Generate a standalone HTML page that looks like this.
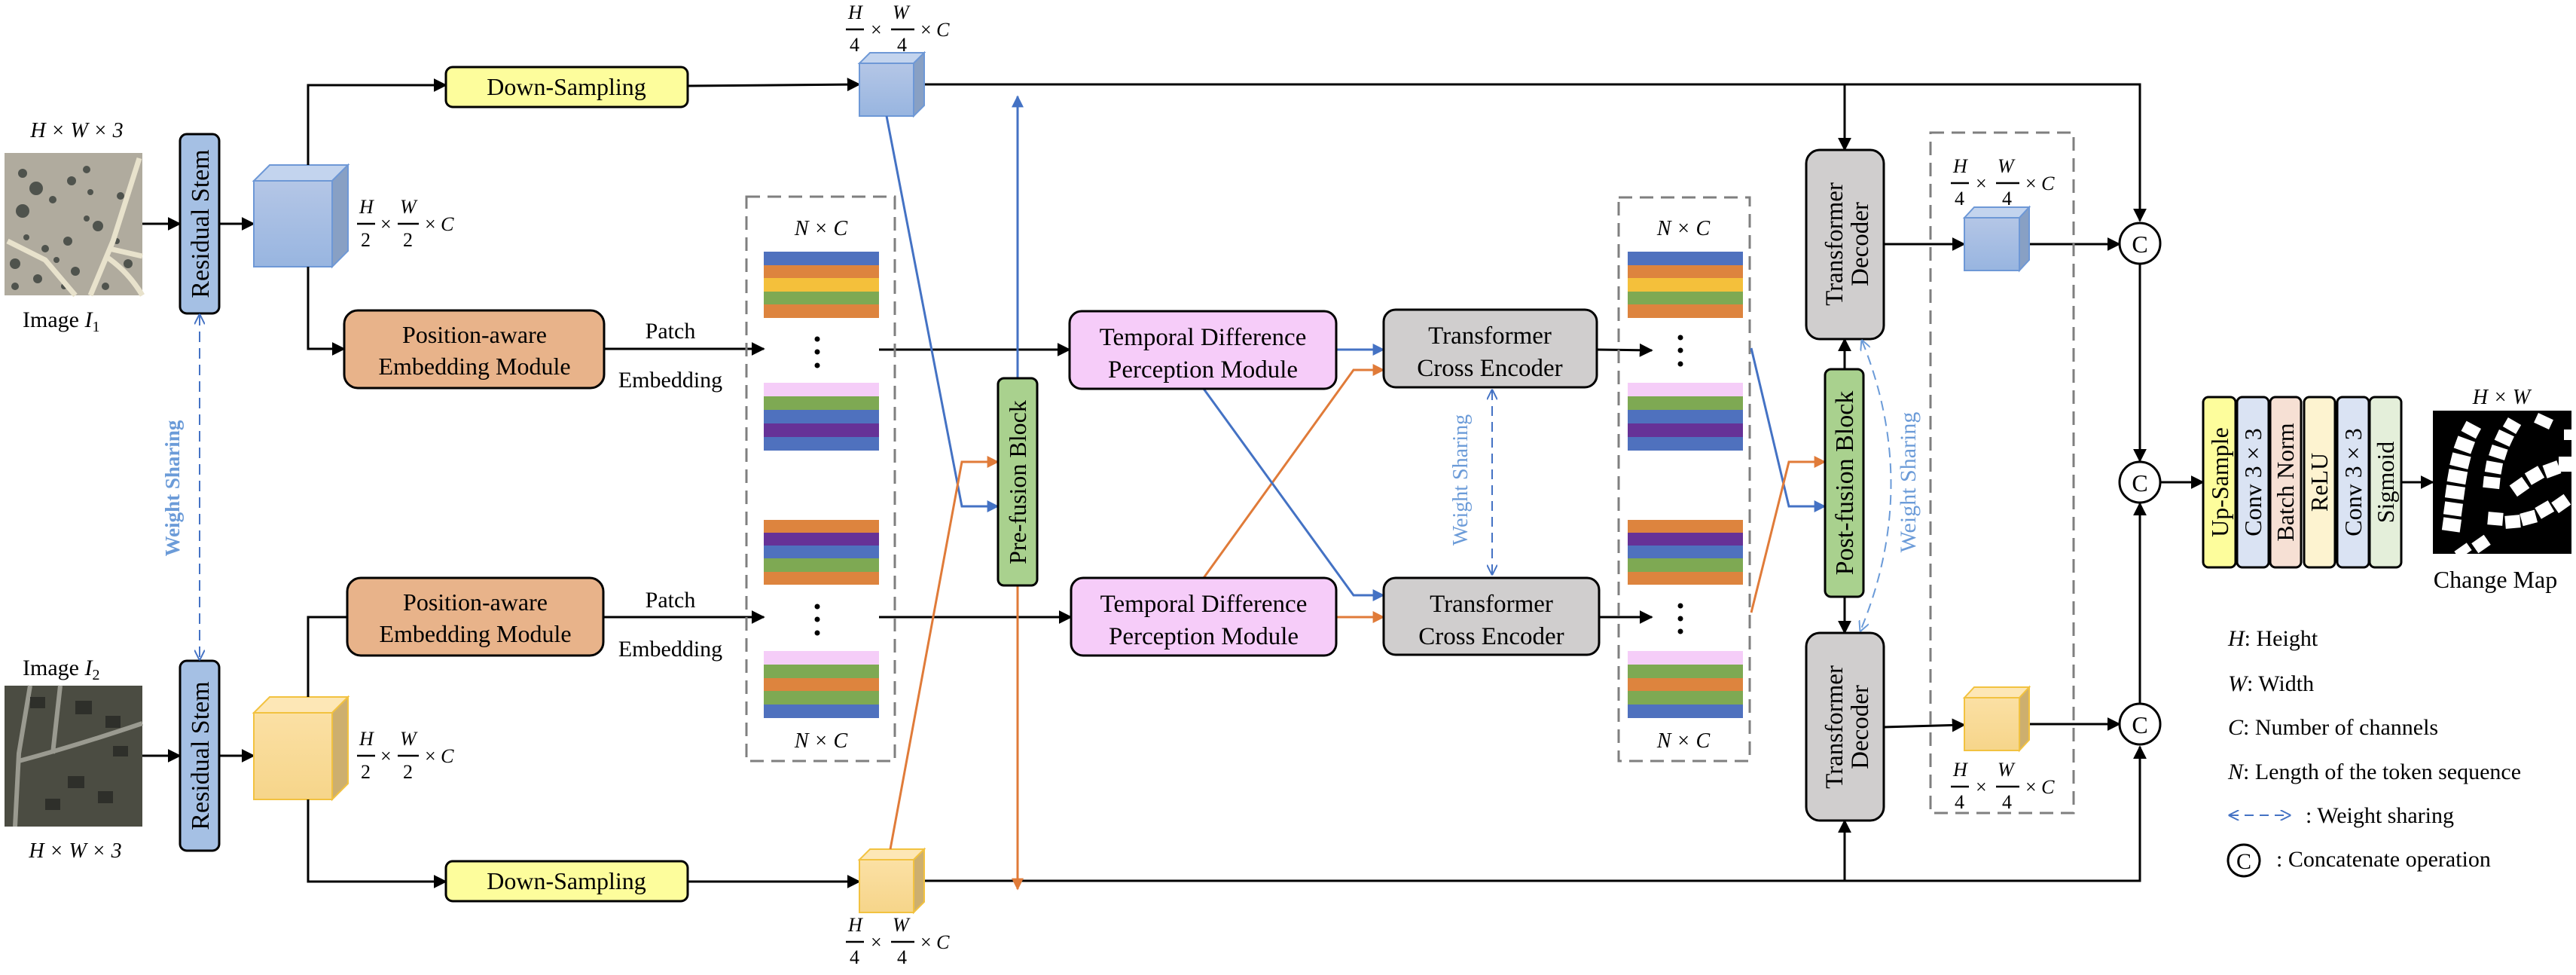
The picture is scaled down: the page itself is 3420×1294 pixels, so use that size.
<!DOCTYPE html>
<html><head><meta charset="utf-8"><style>
html,body{margin:0;padding:0;background:#fff;}
svg{display:block;font-family:"Liberation Serif","DejaVu Serif",serif;}
svg text{font-family:"Liberation Serif","DejaVu Serif",serif;}
.i{font-style:italic;}
</style></head><body>
<svg width="3420" height="1294" viewBox="0 0 3420 1294" xmlns="http://www.w3.org/2000/svg" font-family="Liberation Serif, DejaVu Serif, serif">
<defs>
<marker id="a" viewBox="0 0 10 10" refX="9" refY="5" markerWidth="18" markerHeight="18" markerUnits="userSpaceOnUse" orient="auto"><path d="M0,0L10,5L0,10z" fill="#000"/></marker>
<marker id="abl" viewBox="0 0 10 10" refX="9" refY="5" markerWidth="16" markerHeight="16" markerUnits="userSpaceOnUse" orient="auto"><path d="M0,0L10,5L0,10z" fill="#4472c4"/></marker>
<marker id="aor" viewBox="0 0 10 10" refX="9" refY="5" markerWidth="16" markerHeight="16" markerUnits="userSpaceOnUse" orient="auto"><path d="M0,0L10,5L0,10z" fill="#e07b39"/></marker>
<marker id="ao" viewBox="0 0 10 10" refX="9" refY="5" markerWidth="14" markerHeight="14" markerUnits="userSpaceOnUse" orient="auto-start-reverse"><path d="M0,0L10,5L0,10" fill="none" stroke="#4472c4" stroke-width="1.4"/></marker>
<marker id="ao2" viewBox="0 0 10 10" refX="9" refY="5" markerWidth="14" markerHeight="14" markerUnits="userSpaceOnUse" orient="auto-start-reverse"><path d="M0,0L10,5L0,10" fill="none" stroke="#6b9bd8" stroke-width="1.4"/></marker>
<linearGradient id="gb" x1="0" y1="0" x2="0" y2="1"><stop offset="0" stop-color="#b4c6e6"/><stop offset="1" stop-color="#98b5e0"/></linearGradient>
<linearGradient id="gy" x1="0" y1="0" x2="0" y2="1"><stop offset="0" stop-color="#fbe0a4"/><stop offset="1" stop-color="#f6d58a"/></linearGradient>
</defs>

<!-- Images -->
<rect x="6" y="203" width="183" height="189" fill="#b0ab9e"/>
<g fill="#3f4440" opacity="0.85">
<circle cx="30" cy="230" r="6"/><circle cx="48" cy="250" r="9"/><circle cx="30" cy="280" r="9"/><circle cx="70" cy="265" r="5"/><circle cx="95" cy="240" r="6"/><circle cx="115" cy="225" r="5"/><circle cx="130" cy="300" r="7"/><circle cx="90" cy="320" r="6"/><circle cx="60" cy="330" r="5"/><circle cx="20" cy="350" r="7"/><circle cx="50" cy="370" r="6"/><circle cx="100" cy="360" r="6"/><circle cx="160" cy="260" r="5"/><circle cx="170" cy="350" r="6"/><circle cx="140" cy="380" r="5"/><circle cx="75" cy="345" r="4"/><circle cx="115" cy="290" r="4"/><circle cx="155" cy="320" r="4"/><circle cx="20" cy="380" r="5"/><circle cx="35" cy="315" r="4"/><circle cx="85" cy="380" r="4"/><circle cx="120" cy="255" r="4"/>
</g>
<g stroke="#e8e2cc" stroke-width="7" fill="none"><path d="M185,210 L150,320 L120,392"/><path d="M145,330 L189,340"/><path d="M10,320 L60,345 L100,392"/><path d="M140,340 Q170,360 189,392"/></g>
<rect x="6" y="910" width="183" height="187" fill="#4b4c42"/>
<g stroke="#9a9a90" stroke-width="6" fill="none"><path d="M40,910 L25,1000 L20,1097"/><path d="M25,1010 Q100,990 189,960"/><path d="M80,910 L70,1000"/></g>
<g fill="#2e2f2a"><rect x="40" y="925" width="20" height="15"/><rect x="100" y="930" width="22" height="18"/><rect x="140" y="950" width="20" height="16"/><rect x="90" y="1030" width="22" height="16"/><rect x="130" y="1050" width="20" height="16"/><rect x="60" y="1060" width="20" height="15"/><rect x="150" y="990" width="20" height="14"/></g>

<text x="102" y="182" font-size="28" text-anchor="middle" class="i">H × W × 3</text>
<text x="30" y="434" font-size="30">Image <tspan class="i">I</tspan><tspan font-size="20" dy="6">1</tspan></text>
<text x="30" y="896" font-size="30">Image <tspan class="i">I</tspan><tspan font-size="20" dy="6">2</tspan></text>
<text x="100" y="1138" font-size="28" text-anchor="middle" class="i">H × W × 3</text>

<!-- Residual stems -->
<rect x="239" y="178" width="52" height="238" rx="9" fill="#a5c0e4" stroke="#000" stroke-width="3"/>
<text transform="translate(277,297) rotate(-90)" font-size="34" text-anchor="middle">Residual Stem</text>
<rect x="239" y="877" width="52" height="252" rx="9" fill="#a5c0e4" stroke="#000" stroke-width="3"/>
<text transform="translate(277,1003) rotate(-90)" font-size="34" text-anchor="middle">Residual Stem</text>
<line x1="189" y1="297" x2="239" y2="297" stroke="#000" stroke-width="3" marker-end="url(#a)"/>
<line x1="291" y1="297" x2="337" y2="297" stroke="#000" stroke-width="3" marker-end="url(#a)"/>
<line x1="189" y1="1003" x2="239" y2="1003" stroke="#000" stroke-width="3" marker-end="url(#a)"/>
<line x1="291" y1="1003" x2="337" y2="1003" stroke="#000" stroke-width="3" marker-end="url(#a)"/>
<line x1="265" y1="418" x2="265" y2="875" stroke="#4472c4" stroke-width="2" stroke-dasharray="14,8" marker-start="url(#ao)" marker-end="url(#ao)"/>
<text transform="translate(238,648) rotate(-90)" font-size="27" font-weight="bold" text-anchor="middle" style="fill:#6b9bd8">Weight Sharing</text>

<!-- Big cubes -->
<g stroke="#6e98d6" stroke-width="2">
<rect x="337" y="240" width="104" height="114" fill="url(#gb)"/>
<path d="M337,240 L358,219 L462,219 L441,240z" fill="#c3d4ee"/>
<path d="M441,240 L462,219 L462,333 L441,354z" fill="#88a0c4"/>
</g>
<g stroke="#f2c240" stroke-width="2">
<rect x="337" y="946" width="104" height="115" fill="url(#gy)"/>
<path d="M337,946 L358,925 L462,925 L441,946z" fill="#fde7b6"/>
<path d="M441,946 L462,925 L462,1040 L441,1061z" fill="#cdaf6e"/>
</g>

<!-- fraction labels -->
<g transform="translate(474,297)" font-size="26">
<text x="3" y="-14" class="i">H</text><line x1="0" y1="0" x2="24" y2="0" stroke="#000" stroke-width="2.5"/><text x="5" y="30">2</text>
<text x="31" y="9">×</text>
<text x="57" y="-14" class="i">W</text><line x1="54" y1="0" x2="82" y2="0" stroke="#000" stroke-width="2.5"/><text x="61" y="30">2</text>
<text x="90" y="9">× <tspan class="i">C</tspan></text></g>
<g transform="translate(474,1003)" font-size="26">
<text x="3" y="-14" class="i">H</text><line x1="0" y1="0" x2="24" y2="0" stroke="#000" stroke-width="2.5"/><text x="5" y="30">2</text>
<text x="31" y="9">×</text>
<text x="57" y="-14" class="i">W</text><line x1="54" y1="0" x2="82" y2="0" stroke="#000" stroke-width="2.5"/><text x="61" y="30">2</text>
<text x="90" y="9">× <tspan class="i">C</tspan></text></g>
<g transform="translate(1123,39)" font-size="26">
<text x="3" y="-14" class="i">H</text><line x1="0" y1="0" x2="24" y2="0" stroke="#000" stroke-width="2.5"/><text x="5" y="29">4</text>
<text x="33" y="9">×</text>
<text x="62" y="-14" class="i">W</text><line x1="60" y1="0" x2="91" y2="0" stroke="#000" stroke-width="2.5"/><text x="68" y="29">4</text>
<text x="99" y="9">× <tspan class="i">C</tspan></text></g>
<g transform="translate(1123,1250)" font-size="26">
<text x="3" y="-14" class="i">H</text><line x1="0" y1="0" x2="24" y2="0" stroke="#000" stroke-width="2.5"/><text x="5" y="29">4</text>
<text x="33" y="9">×</text>
<text x="62" y="-14" class="i">W</text><line x1="60" y1="0" x2="91" y2="0" stroke="#000" stroke-width="2.5"/><text x="68" y="29">4</text>
<text x="99" y="9">× <tspan class="i">C</tspan></text></g>
<g transform="translate(2590,243)" font-size="26">
<text x="3" y="-14" class="i">H</text><line x1="0" y1="0" x2="24" y2="0" stroke="#000" stroke-width="2.5"/><text x="5" y="29">4</text>
<text x="33" y="9">×</text>
<text x="62" y="-14" class="i">W</text><line x1="60" y1="0" x2="91" y2="0" stroke="#000" stroke-width="2.5"/><text x="68" y="29">4</text>
<text x="99" y="9">× <tspan class="i">C</tspan></text></g>
<g transform="translate(2590,1044)" font-size="26">
<text x="3" y="-14" class="i">H</text><line x1="0" y1="0" x2="24" y2="0" stroke="#000" stroke-width="2.5"/><text x="5" y="29">4</text>
<text x="33" y="9">×</text>
<text x="62" y="-14" class="i">W</text><line x1="60" y1="0" x2="91" y2="0" stroke="#000" stroke-width="2.5"/><text x="68" y="29">4</text>
<text x="99" y="9">× <tspan class="i">C</tspan></text></g>

<!-- branch lines -->
<g stroke="#000" stroke-width="3" fill="none">
<polyline points="409,219 409,113 592,113" marker-end="url(#a)"/>
<polyline points="409,354 409,463 457,463" marker-end="url(#a)"/>
<polyline points="409,925 409,819 461,819"/>
<polyline points="409,1061 409,1170 592,1170" marker-end="url(#a)"/>
<line x1="913" y1="114" x2="1141" y2="112" marker-end="url(#a)"/>
<line x1="913" y1="1170" x2="1141" y2="1170" marker-end="url(#a)"/>
<line x1="802" y1="463" x2="1014" y2="463" marker-end="url(#a)"/>
<line x1="801" y1="819" x2="1014" y2="819" marker-end="url(#a)"/>
<line x1="1167" y1="464" x2="1420" y2="464" marker-end="url(#a)"/>
<line x1="1167" y1="819" x2="1422" y2="819" marker-end="url(#a)"/>
<line x1="2120" y1="464" x2="2193" y2="465" marker-end="url(#a)"/>
<line x1="2123" y1="819" x2="2193" y2="819" marker-end="url(#a)"/>
<polyline points="1227,112 2841,112 2841,293" marker-end="url(#a)"/>
<polyline points="1227,1169 2841,1169 2841,991" marker-end="url(#a)"/>
<line x1="2449" y1="112" x2="2449" y2="199" marker-end="url(#a)"/>
<line x1="2449" y1="1169" x2="2449" y2="1089" marker-end="url(#a)"/>
<line x1="2449" y1="490" x2="2449" y2="450" marker-end="url(#a)"/>
<line x1="2449" y1="792" x2="2449" y2="840" marker-end="url(#a)"/>
<line x1="2501" y1="324" x2="2608" y2="324" marker-end="url(#a)"/>
<line x1="2694" y1="324" x2="2814" y2="324" marker-end="url(#a)"/>
<line x1="2501" y1="965" x2="2608" y2="962" marker-end="url(#a)"/>
<line x1="2694" y1="961" x2="2814" y2="961" marker-end="url(#a)"/>
<line x1="2841" y1="351" x2="2841" y2="612" marker-end="url(#a)"/>
<line x1="2841" y1="934" x2="2841" y2="668" marker-end="url(#a)"/>
<line x1="2868" y1="640" x2="2925" y2="640" marker-end="url(#a)"/>
<line x1="3188" y1="640" x2="3230" y2="640" marker-end="url(#a)"/>
</g>

<!-- Down sampling -->
<rect x="592" y="89" width="321" height="53" rx="9" fill="#fdfd9c" stroke="#000" stroke-width="3"/>
<text x="752" y="126" font-size="32" text-anchor="middle">Down-Sampling</text>
<rect x="592" y="1143" width="321" height="53" rx="9" fill="#fdfd9c" stroke="#000" stroke-width="3"/>
<text x="752" y="1180" font-size="32" text-anchor="middle">Down-Sampling</text>

<!-- PEM -->
<rect x="457" y="412" width="345" height="103" rx="18" fill="#e8b38a" stroke="#000" stroke-width="3"/>
<text x="630" y="455" font-size="32" text-anchor="middle">Position-aware</text>
<text x="630" y="497" font-size="32" text-anchor="middle">Embedding Module</text>
<rect x="461" y="767" width="340" height="103" rx="18" fill="#e8b38a" stroke="#000" stroke-width="3"/>
<text x="631" y="810" font-size="32" text-anchor="middle">Position-aware</text>
<text x="631" y="852" font-size="32" text-anchor="middle">Embedding Module</text>
<text x="890" y="449" font-size="30" text-anchor="middle">Patch</text>
<text x="890" y="514" font-size="30" text-anchor="middle">Embedding</text>
<text x="890" y="806" font-size="30" text-anchor="middle">Patch</text>
<text x="890" y="871" font-size="30" text-anchor="middle">Embedding</text>

<!-- small cubes -->
<g stroke="#6e98d6" stroke-width="2">
<rect x="1141" y="84" width="72" height="70" fill="url(#gb)"/>
<path d="M1141,84 L1155,70 L1227,70 L1213,84z" fill="#c3d4ee"/>
<path d="M1213,84 L1227,70 L1227,140 L1213,154z" fill="#88a0c4"/>
<rect x="2608" y="289" width="73" height="70" fill="url(#gb)"/>
<path d="M2608,289 L2621,275 L2694,275 L2681,289z" fill="#c3d4ee"/>
<path d="M2681,289 L2694,275 L2694,345 L2681,359z" fill="#88a0c4"/>
</g>
<g stroke="#f2c240" stroke-width="2">
<rect x="1141" y="1141" width="72" height="70" fill="url(#gy)"/>
<path d="M1141,1141 L1155,1127 L1227,1127 L1213,1141z" fill="#fde7b6"/>
<path d="M1213,1141 L1227,1127 L1227,1197 L1213,1211z" fill="#cdaf6e"/>
<rect x="2608" y="926" width="73" height="70" fill="url(#gy)"/>
<path d="M2608,926 L2621,912 L2694,912 L2681,926z" fill="#fde7b6"/>
<path d="M2681,926 L2694,912 L2694,982 L2681,996z" fill="#cdaf6e"/>
</g>

<!-- Token dashed boxes -->
<rect x="991" y="261" width="197" height="749" fill="none" stroke="#7f7f7f" stroke-width="3" stroke-dasharray="18,10"/>
<rect x="2149" y="262" width="174" height="748" fill="none" stroke="#7f7f7f" stroke-width="3" stroke-dasharray="18,10"/>
<rect x="2563" y="176" width="190" height="903" fill="none" stroke="#7f7f7f" stroke-width="3" stroke-dasharray="18,10"/>

<g>
<rect x="1014" y="334" width="153" height="18" fill="#4f71be"/><rect x="1014" y="352" width="153" height="17" fill="#dd843e"/><rect x="1014" y="369" width="153" height="18" fill="#f4c03b"/><rect x="1014" y="387" width="153" height="17" fill="#7ea953"/><rect x="1014" y="404" width="153" height="18" fill="#dd843e"/>
<rect x="1014" y="508" width="153" height="18" fill="#f5cdf8"/><rect x="1014" y="526" width="153" height="18" fill="#7ea953"/><rect x="1014" y="544" width="153" height="18" fill="#4f71be"/><rect x="1014" y="562" width="153" height="18" fill="#663297"/><rect x="1014" y="580" width="153" height="18" fill="#4f71be"/>
<rect x="1014" y="690" width="153" height="17" fill="#dd843e"/><rect x="1014" y="707" width="153" height="17" fill="#663297"/><rect x="1014" y="724" width="153" height="17" fill="#4f71be"/><rect x="1014" y="741" width="153" height="18" fill="#7ea953"/><rect x="1014" y="759" width="153" height="17" fill="#dd843e"/>
<rect x="1014" y="864" width="153" height="18" fill="#f5cdf8"/><rect x="1014" y="882" width="153" height="18" fill="#7ea953"/><rect x="1014" y="900" width="153" height="17" fill="#dd843e"/><rect x="1014" y="917" width="153" height="18" fill="#7ea953"/><rect x="1014" y="935" width="153" height="18" fill="#4f71be"/>
<rect x="2161" y="334" width="153" height="18" fill="#4f71be"/><rect x="2161" y="352" width="153" height="17" fill="#dd843e"/><rect x="2161" y="369" width="153" height="18" fill="#f4c03b"/><rect x="2161" y="387" width="153" height="17" fill="#7ea953"/><rect x="2161" y="404" width="153" height="18" fill="#dd843e"/>
<rect x="2161" y="508" width="153" height="18" fill="#f5cdf8"/><rect x="2161" y="526" width="153" height="18" fill="#7ea953"/><rect x="2161" y="544" width="153" height="18" fill="#4f71be"/><rect x="2161" y="562" width="153" height="18" fill="#663297"/><rect x="2161" y="580" width="153" height="18" fill="#4f71be"/>
<rect x="2161" y="690" width="153" height="17" fill="#dd843e"/><rect x="2161" y="707" width="153" height="17" fill="#663297"/><rect x="2161" y="724" width="153" height="17" fill="#4f71be"/><rect x="2161" y="741" width="153" height="18" fill="#7ea953"/><rect x="2161" y="759" width="153" height="17" fill="#dd843e"/>
<rect x="2161" y="864" width="153" height="18" fill="#f5cdf8"/><rect x="2161" y="882" width="153" height="18" fill="#7ea953"/><rect x="2161" y="900" width="153" height="17" fill="#dd843e"/><rect x="2161" y="917" width="153" height="18" fill="#7ea953"/><rect x="2161" y="935" width="153" height="18" fill="#4f71be"/>
</g>
<g fill="#000">
<circle cx="1085" cy="450" r="3.5"/><circle cx="1085" cy="467" r="3.5"/><circle cx="1085" cy="485" r="3.5"/>
<circle cx="1085" cy="805" r="3.5"/><circle cx="1085" cy="822" r="3.5"/><circle cx="1085" cy="840" r="3.5"/>
<circle cx="2231" cy="448" r="3.5"/><circle cx="2231" cy="465" r="3.5"/><circle cx="2231" cy="483" r="3.5"/>
<circle cx="2231" cy="804" r="3.5"/><circle cx="2231" cy="821" r="3.5"/><circle cx="2231" cy="838" r="3.5"/>
</g>
<text x="1090" y="312" font-size="28" text-anchor="middle" class="i">N × C</text>
<text x="1090" y="992" font-size="28" text-anchor="middle" class="i">N × C</text>
<text x="2235" y="312" font-size="28" text-anchor="middle" class="i">N × C</text>
<text x="2235" y="992" font-size="28" text-anchor="middle" class="i">N × C</text>

<!-- colored connectors -->
<g fill="none" stroke-width="3">
<polyline points="1177,154 1277,672 1325,672" stroke="#4472c4" marker-end="url(#abl)"/>
<polyline points="1182,1127 1277,613 1325,613" stroke="#e07b39" marker-end="url(#aor)"/>
<line x1="1351" y1="502" x2="1351" y2="128" stroke="#4472c4" marker-end="url(#abl)"/>
<line x1="1351" y1="777" x2="1351" y2="1180" stroke="#e07b39" marker-end="url(#aor)"/>
<line x1="1774" y1="464" x2="1837" y2="464" stroke="#4472c4" marker-end="url(#abl)"/>
<polyline points="1598,767 1797,491 1837,491" stroke="#e07b39" marker-end="url(#aor)"/>
<polyline points="1598,516 1797,790 1837,790" stroke="#4472c4" marker-end="url(#abl)"/>
<line x1="1774" y1="819" x2="1837" y2="819" stroke="#e07b39" marker-end="url(#aor)"/>
<polyline points="2325,462 2375,672 2423,672" stroke="#4472c4" marker-end="url(#abl)"/>
<polyline points="2325,813 2375,613 2423,613" stroke="#e07b39" marker-end="url(#aor)"/>
</g>

<!-- Pre/Post fusion -->
<rect x="1325" y="502" width="52" height="275" rx="8" fill="#a9d18e" stroke="#000" stroke-width="3"/>
<text transform="translate(1362,640) rotate(-90)" font-size="32" text-anchor="middle">Pre-fusion Block</text>
<rect x="2423" y="490" width="51" height="302" rx="8" fill="#a9d18e" stroke="#000" stroke-width="3"/>
<text transform="translate(2460,641) rotate(-90)" font-size="34" text-anchor="middle">Post-fusion Block</text>

<!-- TDPM & TCE -->
<rect x="1420" y="413" width="354" height="103" rx="16" fill="#f6ccf9" stroke="#000" stroke-width="3"/>
<text x="1597" y="458" font-size="33" text-anchor="middle">Temporal Difference</text>
<text x="1597" y="501" font-size="33" text-anchor="middle">Perception Module</text>
<rect x="1422" y="767" width="352" height="103" rx="16" fill="#f6ccf9" stroke="#000" stroke-width="3"/>
<text x="1598" y="812" font-size="33" text-anchor="middle">Temporal Difference</text>
<text x="1598" y="855" font-size="33" text-anchor="middle">Perception Module</text>
<rect x="1837" y="411" width="283" height="103" rx="16" fill="#d0cece" stroke="#000" stroke-width="3"/>
<text x="1978" y="456" font-size="33" text-anchor="middle">Transformer</text>
<text x="1978" y="499" font-size="33" text-anchor="middle">Cross Encoder</text>
<rect x="1837" y="767" width="286" height="102" rx="16" fill="#d0cece" stroke="#000" stroke-width="3"/>
<text x="1980" y="812" font-size="33" text-anchor="middle">Transformer</text>
<text x="1980" y="855" font-size="33" text-anchor="middle">Cross Encoder</text>
<line x1="1981" y1="518" x2="1981" y2="762" stroke="#4472c4" stroke-width="2" stroke-dasharray="13,8" marker-start="url(#ao)" marker-end="url(#ao)"/>
<text transform="translate(1948,637) rotate(-90)" font-size="28" text-anchor="middle" style="fill:#6b9bd8">Weight Sharing</text>

<!-- Decoders -->
<rect x="2398" y="199" width="103" height="251" rx="18" fill="#d0cece" stroke="#000" stroke-width="3"/>
<text transform="translate(2446,324) rotate(-90)" font-size="33" text-anchor="middle">Transformer</text>
<text transform="translate(2480,324) rotate(-90)" font-size="33" text-anchor="middle">Decoder</text>
<rect x="2398" y="840" width="103" height="249" rx="18" fill="#d0cece" stroke="#000" stroke-width="3"/>
<text transform="translate(2446,965) rotate(-90)" font-size="33" text-anchor="middle">Transformer</text>
<text transform="translate(2480,965) rotate(-90)" font-size="33" text-anchor="middle">Decoder</text>
<path d="M2472,452 Q2550,645 2470,837" fill="none" stroke="#6b9bd8" stroke-width="2" stroke-dasharray="13,8" marker-start="url(#ao2)" marker-end="url(#ao2)"/>
<text transform="translate(2543,640) rotate(-90)" font-size="30" text-anchor="middle" style="fill:#6b9bd8">Weight Sharing</text>

<!-- C circles -->
<g fill="#fff" stroke="#000" stroke-width="3">
<circle cx="2841" cy="323" r="27"/><circle cx="2841" cy="640" r="27"/><circle cx="2841" cy="961" r="27"/>
</g>
<text x="2841" y="335" font-size="32" text-anchor="middle">C</text>
<text x="2841" y="652" font-size="32" text-anchor="middle">C</text>
<text x="2841" y="973" font-size="32" text-anchor="middle">C</text>

<!-- Head -->
<g stroke="#000" stroke-width="3">
<rect x="2925" y="527" width="43" height="226" rx="7" fill="#fdfd9c"/>
<rect x="2970" y="527" width="42" height="226" rx="7" fill="#dae3f3"/>
<rect x="3014" y="527" width="41" height="226" rx="7" fill="#f6e0d4"/>
<rect x="3059" y="527" width="41" height="226" rx="7" fill="#fdf3d0"/>
<rect x="3103" y="527" width="42" height="226" rx="7" fill="#dae3f3"/>
<rect x="3146" y="527" width="42" height="226" rx="7" fill="#e4efda"/>
</g>
<g font-size="32" text-anchor="middle">
<text transform="translate(2958,640) rotate(-90)">Up-Sample</text>
<text transform="translate(3002,640) rotate(-90)">Conv 3 × 3</text>
<text transform="translate(3045,640) rotate(-90)">Batch Norm</text>
<text transform="translate(3090,640) rotate(-90)">ReLU</text>
<text transform="translate(3135,640) rotate(-90)">Conv 3 × 3</text>
<text transform="translate(3178,640) rotate(-90)">Sigmoid</text>
</g>

<!-- Change map -->
<rect x="3230" y="545" width="184" height="190" fill="#000"/>
<g fill="#fff">
<rect x="3243" y="688" width="24" height="17" transform="rotate(8 3255 696)"/>
<rect x="3245" y="667" width="24" height="17" transform="rotate(8 3257 675)"/>
<rect x="3247" y="645" width="25" height="17" transform="rotate(8 3260 653)"/>
<rect x="3250" y="624" width="25" height="17" transform="rotate(10 3262 632)"/>
<rect x="3254" y="603" width="25" height="17" transform="rotate(14 3266 611)"/>
<rect x="3260" y="582" width="24" height="17" transform="rotate(20 3272 590)"/>
<rect x="3270" y="563" width="22" height="15" transform="rotate(28 3281 570)"/>
<rect x="3297" y="633" width="22" height="15" transform="rotate(6 3308 640)"/>
<rect x="3300" y="613" width="22" height="15" transform="rotate(10 3311 620)"/>
<rect x="3306" y="593" width="22" height="15" transform="rotate(18 3317 600)"/>
<rect x="3314" y="574" width="22" height="15" transform="rotate(25 3325 581)"/>
<rect x="3325" y="558" width="20" height="14" transform="rotate(30 3335 565)"/>
<rect x="3366" y="552" width="22" height="14" transform="rotate(25 3377 559)"/>
<rect x="3335" y="637" width="20" height="18" transform="rotate(-35 3345 646)"/>
<rect x="3355" y="622" width="20" height="18" transform="rotate(-30 3365 631)"/>
<rect x="3378" y="614" width="20" height="18" transform="rotate(-20 3388 623)"/>
<rect x="3397" y="606" width="17" height="20"/>
<rect x="3303" y="680" width="20" height="17" transform="rotate(5 3313 688)"/>
<rect x="3326" y="684" width="20" height="17" transform="rotate(-5 3336 692)"/>
<rect x="3347" y="679" width="20" height="17" transform="rotate(-15 3357 687)"/>
<rect x="3368" y="668" width="20" height="17" transform="rotate(-30 3378 676)"/>
<rect x="3390" y="660" width="20" height="17" transform="rotate(-35 3400 668)"/>
<rect x="3284" y="714" width="20" height="16" transform="rotate(-35 3294 722)"/>
<rect x="3260" y="725" width="20" height="12" transform="rotate(-35 3270 731)"/>
<rect x="3404" y="570" width="10" height="14"/>
</g>
<text x="3321" y="536" font-size="28" text-anchor="middle" class="i">H × W</text>
<text x="3313" y="780" font-size="32" text-anchor="middle">Change Map</text>

<!-- Legend -->
<g font-size="30">
<text x="2958" y="857"><tspan class="i">H</tspan>: Height</text>
<text x="2958" y="917"><tspan class="i">W</tspan>: Width</text>
<text x="2958" y="975"><tspan class="i">C</tspan>: Number of channels</text>
<text x="2958" y="1034"><tspan class="i">N</tspan>: Length of the token sequence</text>
<text x="3061" y="1092">: Weight sharing</text>
<text x="3022" y="1150">: Concatenate operation</text>
</g>
<line x1="2960" y1="1082" x2="3040" y2="1082" stroke="#4472c4" stroke-width="2" stroke-dasharray="12,8" marker-start="url(#ao)" marker-end="url(#ao)"/>
<circle cx="2979" cy="1142" r="21" fill="#fff" stroke="#000" stroke-width="3"/>
<text x="2979" y="1153" font-size="30" text-anchor="middle">C</text>
</svg>
</body></html>
